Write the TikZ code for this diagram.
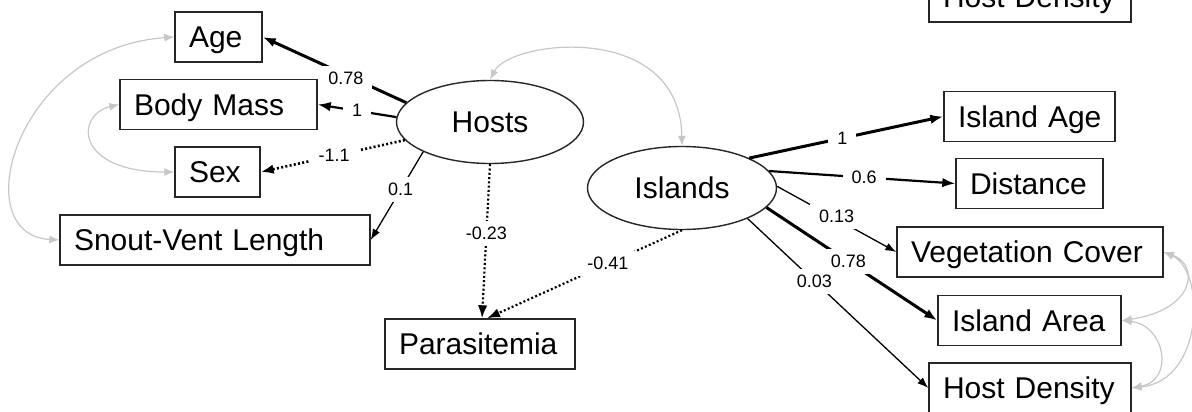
\documentclass[tikz,border=0pt]{standalone}
\usepackage{fontspec}
\setmainfont{Liberation Sans}
\usetikzlibrary{shapes.geometric,arrows.meta}
\begin{document}
\begin{tikzpicture}[x=1pt,y=-1pt,
  box/.style={draw=black!85, line width=1.4pt, minimum height=50pt, inner ysep=0pt,
    inner xsep=14pt, text width=#1, align=left, text height=21.5pt, text depth=0pt,
    font=\fontsize{30}{34}\selectfont},
  lat/.style={draw=black!85, line width=1.4pt, ellipse, minimum width=187pt,
    minimum height=83pt, inner sep=0pt, text height=21.5pt, text depth=0pt,
    font=\fontsize{30}{34}\selectfont},
  lbl/.style={fill=white, font=\fontsize{18}{20}\selectfont, inner xsep=9pt, inner ysep=6pt},
  bigtip/.style={-{Latex[length=13pt,width=9.5pt]}},
  smalltip/.style={-{Latex[length=11pt,width=8pt]}},
  wthick/.style={bigtip, line width=3pt},
  wmed/.style={bigtip, line width=2.2pt},
  wthin/.style={smalltip, line width=1.3pt},
  wdot/.style={bigtip, line width=2.6pt, dash pattern=on 2pt off 2.3pt},
  cov/.style={draw=black!22, line width=1.2pt, {Latex[length=10pt,width=8pt]}-{Latex[length=10pt,width=8pt]}}
]
\useasboundingbox (0,0) rectangle (1192,412);
\clip (0,0) rectangle (1192,412);
\fill[white] (0,0) rectangle (1192,412);

% observed variables (left)
\node[box=59pt]  (age) at (218.5,37)  {\mbox{Age}};
\node[box=169pt] (bm)  at (218.5,104.5) {\mbox{Body Mass}};
\node[box=57pt]  (sex) at (217.5,172) {\mbox{Sex}};
\node[box=282pt] (svl) at (215,240)   {\mbox{Snout-Vent Length}};
\node[box=162pt] (par) at (480,344)   {\mbox{Parasitemia}};

% observed variables (right)
\node[box=143pt] (iage) at (1029.5,116.5) {\mbox{Island Age}};
\node[box=119pt] (dist) at (1029.5,183.5) {\mbox{Distance}};
\node[box=238pt] (veg)  at (1030,252)     {\mbox{Vegetation Cover}};
\node[box=155pt] (iarea) at (1029.5,320.5) {\mbox{Island Area}};
\node[box=174pt] (hd)   at (1030,388)     {\mbox{Host Density}};
\node[box=174pt] (hdtop) at (1030,-3)     {\mbox{Host Density}};

% latent variables
\node[lat] (H) at (490,122) {Hosts};
\node[lat, minimum width=189pt] (I) at (682,188) {Islands};

% Hosts loadings
\draw[wthick] (H.167) -- node[lbl,pos=0.42,yshift=-3pt]{0.78} (age.east);
\draw[wmed]   (H.177) -- node[lbl,pos=0.5]{1} (bm.east);
\draw[wdot]   (H.192) -- node[lbl,pos=0.49]{-1.1} (sex.east);
\draw[wthin]  (H.204) -- node[lbl,pos=0.43]{0.1} (svl.east);

% paths to Parasitemia
\draw[wdot, line width=2.2pt] (H.south) -- node[lbl,pos=0.45]{-0.23} ([xshift=2pt]par.north);
\draw[wdot, line width=2.2pt] (I.south) -- node[lbl,pos=0.38]{-0.41} ([xshift=7pt]par.north);

% Islands loadings
\draw[wthick] (I.24)  -- node[lbl,pos=0.48]{1} (iage.west);
\draw[wmed]   (I.11)  -- node[lbl,pos=0.51]{0.6} (dist.west);
\draw[wthin]  (I.1)   -- node[lbl,pos=0.5,yshift=3pt]{0.13} (veg.west);
\draw[wthick] (I.347) -- node[lbl,pos=0.48]{0.78} (iarea.west);
\draw[wthin]  (I.335) -- node[lbl,pos=0.37]{0.03} (hd.west);

% covariances
\draw[cov] (H.north) .. controls (510,40) and (680,20) .. (I.north);
\draw[cov] (age.west) .. controls (15,48) and (-35,235) .. (svl.west);
\draw[cov] (bm.west) .. controls (75,115) and (75,172) .. (sex.west);
\draw[cov] (veg.east) .. controls (1200,265) and (1195,310) .. (iarea.east);
\draw[cov] (veg.east) .. controls (1205,270) and (1205,380) .. (hd.east);
\draw[cov] (iarea.east) .. controls (1165,325) and (1175,380) .. (hd.east);
\end{tikzpicture}
\end{document}
